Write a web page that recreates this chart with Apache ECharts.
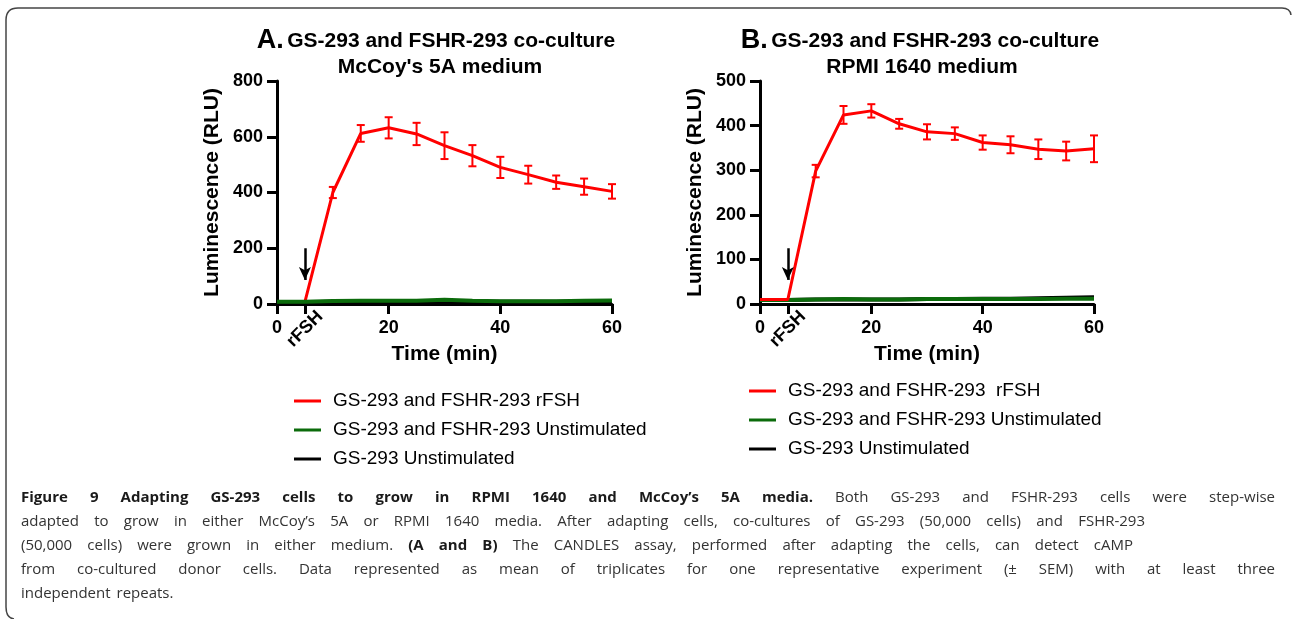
<!DOCTYPE html>
<html><head><meta charset="utf-8">
<script src="https://cdn.jsdelivr.net/npm/echarts@6/dist/echarts.min.js"></script>
<style>html,body{margin:0;padding:0;background:#fff}#c{width:1292px;height:619px}</style>
</head><body><div id="c"></div>
<script>
// ---------- data ----------
const timePoints = [0, 5, 10, 15, 20, 25, 30, 35, 40, 45, 50, 55, 60];
const xLabelValues = [0, 20, 40, 60];
const xTickValues = [0, 5, 20, 40, 60];
const stimTime = 5;
const stimLabel = 'rFSH';

const redA   = [8, 8, 400, 612, 632, 610, 568, 532, 490, 464, 437, 421, 404];
const errA   = [0, 0, 20, 30, 38, 40, 48, 38, 38, 32, 24, 29, 26];
const greenA = [8, 8, 11, 12, 12, 12, 15, 12, 10, 10, 10, 12, 13];
const blackA = [6, 6, 8, 9, 9, 9, 10, 9, 8, 8, 8, 9, 9];

const redB   = [10, 10, 298, 424, 433, 404, 386, 382, 362, 357, 347, 343, 348];
const errB   = [0, 0, 14, 20, 15, 11, 17, 14, 16, 19, 22, 21, 30];
const greenB = [9, 9, 10, 11, 10, 10, 11, 11, 11, 11, 11, 12, 12];
const blackB = [9, 9, 10, 10, 10, 10, 11, 11, 12, 12, 13, 14, 15];

const yMaxA = 800, yIntA = 200;
const yMaxB = 500, yIntB = 100;
const arrowA = [200, 86];
const arrowB = [125, 54];

const namesA = ['GS-293 and FSHR-293 rFSH', 'GS-293 and FSHR-293 Unstimulated', 'GS-293 Unstimulated'];
const namesB = ['GS-293 and FSHR-293  rFSH', 'GS-293 and FSHR-293 Unstimulated', 'GS-293 Unstimulated'];

const titleA = ['A.', 'GS-293 and FSHR-293 co-culture', "McCoy's 5A medium"];
const titleB = ['B.', 'GS-293 and FSHR-293 co-culture', 'RPMI 1640 medium'];

const captionLines = [
  {right: 1275, segs: [[true, 'Figure 9 Adapting GS-293 cells to grow in RPMI 1640 and McCoy\u2019s 5A media.'], [false, 'Both GS-293 and FSHR-293 cells were step-wise']]},
  {right: 1145, segs: [[false, 'adapted to grow in either McCoy\u2019s 5A or RPMI 1640 media. After adapting cells, co-cultures of GS-293 (50,000 cells) and FSHR-293']]},
  {right: 1133, segs: [[false, '(50,000 cells) were grown in either medium.'], [true, '(A and B)'], [false, 'The CANDLES assay, performed after adapting the cells, can detect cAMP']]},
  {right: 1275, segs: [[false, 'from co-cultured donor cells. Data represented as mean of triplicates for one representative experiment (\u00b1 SEM) with at least three']]},
  {right: null, segs: [[false, 'independent repeats.']]}
];

// ---------- styles ----------
const FONT = '"Liberation Sans", Arial, Helvetica, sans-serif';
const CAPFONT = '"Open Sans", sans-serif';
const CAPSIZE = 15;
const CAPGAP = 6;
const RED = '#ff0000', GREEN = '#0b6b0b', BLACK = '#000000';

const pairs = (ys) => timePoints.map((t, i) => [t, ys[i]]);
const errData = (ys, es) => timePoints.map((t, i) => [t, ys[i] - es[i], ys[i] + es[i]]);

function errRender(params, api) {
  const x = api.value(0), lo = api.value(1), hi = api.value(2);
  if (!(hi > lo)) return null;
  const p1 = api.coord([x, hi]), p2 = api.coord([x, lo]);
  const w = 4;
  const st = {stroke: RED, lineWidth: 2};
  return {type: 'group', children: [
    {type: 'line', shape: {x1: p1[0], y1: p1[1], x2: p2[0], y2: p2[1]}, style: st},
    {type: 'line', shape: {x1: p1[0] - w, y1: p1[1], x2: p1[0] + w, y2: p1[1]}, style: st},
    {type: 'line', shape: {x1: p2[0] - w, y1: p2[1], x2: p2[0] + w, y2: p2[1]}, style: st}
  ]};
}

function xAxes(gi) {
  return [{
    gridIndex: gi, type: 'value', min: 0, max: 60, position: 'bottom',
    axisLine: {show: true, onZero: false, lineStyle: {color: '#000', width: 3}},
    axisTick: {show: true, customValues: xTickValues, length: 10, lineStyle: {color: '#000', width: 3}},
    axisLabel: {customValues: xLabelValues, color: '#000', fontSize: 18, fontWeight: 'bold', fontFamily: FONT, margin: 15},
    splitLine: {show: false},
    name: 'Time (min)', nameLocation: 'middle', nameGap: 40,
    nameTextStyle: {color: '#000', fontSize: 21, fontWeight: 'bold', fontFamily: FONT}
  }, {
    gridIndex: gi, type: 'value', min: 0, max: 60, position: 'bottom', offset: 0,
    axisLine: {show: false}, axisTick: {show: false}, splitLine: {show: false},
    axisLabel: {customValues: [stimTime], rotate: 45, align: 'center', verticalAlign: 'middle', formatter: () => stimLabel,
      color: '#000', fontSize: 18, fontWeight: 'bold', fontFamily: FONT, margin: 25}
  }];
}
function yAxis(gi, max, interval) {
  return {
    gridIndex: gi, type: 'value', min: 0, max: max, interval: interval,
    axisLine: {show: true, lineStyle: {color: '#000', width: 3}},
    axisTick: {show: true, length: 10, lineStyle: {color: '#000', width: 3}},
    axisLabel: {color: '#000', fontSize: 18, fontWeight: 'bold', fontFamily: FONT, margin: 14},
    splitLine: {show: false},
    name: 'Luminescence (RLU)', nameLocation: 'middle', nameGap: 54,
    nameTextStyle: {color: '#000', fontSize: 21, fontWeight: 'bold', fontFamily: FONT}
  };
}
function lineSeries(name, xi, yi, data, color, width, z, extra) {
  return Object.assign({
    type: 'line', name: name, xAxisIndex: xi, yAxisIndex: yi, data: data,
    showSymbol: false, symbol: 'none', z: z,
    lineStyle: {color: color, width: width}, itemStyle: {color: color}
  }, extra || {});
}
function arrowLine(a) {
  return {
    silent: true, symbol: ['none', 'arrow'], symbolSize: [9, 13],
    lineStyle: {color: '#000', width: 2.5, type: 'solid'}, label: {show: false},
    data: [[{coord: [stimTime, a[0]]}, {coord: [stimTime, a[1]]}]]
  };
}

// ---------- caption ----------
const ctx = document.createElement('canvas').getContext('2d');
function measure(t, bold) {
  ctx.font = (bold ? 'bold ' : '') + CAPSIZE + 'px ' + CAPFONT;
  return ctx.measureText(t).width;
}
const captionGraphics = [];
const capLeft = 21, capTop = 497.5, capPitch = 24.1;
captionLines.forEach((ln, li) => {
  const words = [];
  ln.segs.forEach(([b, t]) => t.split(' ').forEach(w => words.push([b, w])));
  const widths = words.map(([b, w]) => measure(w, b));
  const total = widths.reduce((s, v) => s + v, 0);
  const gap = ln.right ? (ln.right - capLeft - total) / (words.length - 1) : CAPGAP;
  let x = capLeft;
  words.forEach(([b, w], i) => {
    captionGraphics.push({
      type: 'text', x: x, y: capTop + li * capPitch, silent: true,
      style: {text: w, font: (b ? 'bold ' : '') + CAPSIZE + 'px ' + CAPFONT, fill: b ? '#1a1a1a' : '#333333', verticalAlign: 'middle'}
    });
    x += widths[i] + gap;
  });
});

function titleGraphics(t, cx1, cx2) {
  return [{
    type: 'text', x: cx1, y: 41, silent: true,
    style: {text: '{a|' + t[0] + '} {b|' + t[1] + '}', align: 'center', verticalAlign: 'middle',
      rich: {a: {fontSize: 27, fontWeight: 'bold', fontFamily: FONT, fill: '#000'},
             b: {fontSize: 21, fontWeight: 'bold', fontFamily: FONT, fill: '#000'}}}
  }, {
    type: 'text', x: cx2, y: 67, silent: true,
    style: {text: t[2], align: 'center', verticalAlign: 'middle', font: 'bold 21px ' + FONT, fill: '#000'}
  }];
}

const frameStyle = {fill: 'none', stroke: '#444', lineWidth: 1.5};
const frame = [
  {type: 'line', silent: true, shape: {x1: 18, y1: 8, x2: 1282, y2: 8}, style: frameStyle},
  {type: 'bezierCurve', silent: true, shape: {x1: 1282, y1: 8, cpx1: 1290, cpy1: 8, x2: 1291, y2: 15}, style: frameStyle},
  {type: 'bezierCurve', silent: true, shape: {x1: 18, y1: 8, cpx1: 6, cpy1: 8, x2: 6, y2: 20}, style: frameStyle},
  {type: 'line', silent: true, shape: {x1: 6, y1: 20, x2: 6, y2: 607}, style: frameStyle},
  {type: 'bezierCurve', silent: true, shape: {x1: 6, y1: 607, cpx1: 6, cpy1: 618, x2: 14, y2: 619}, style: frameStyle}
];

const legendBase = {
  orient: 'vertical', icon: 'rect', itemWidth: 27, itemHeight: 3, itemGap: 10, padding: 0,
  selectedMode: false,
  textStyle: {fontSize: 19, lineHeight: 19, fontFamily: FONT, color: '#000', padding: [0, 0, 0, 7]}
};

const chart = echarts.init(document.getElementById('c'), null, {renderer: 'canvas'});
chart.setOption({
  animation: false,
  backgroundColor: '#fff',
  grid: [
    {left: 277, top: 81, width: 335, height: 223},
    {left: 760, top: 81, width: 334, height: 223}
  ],
  xAxis: xAxes(0).concat(xAxes(1)),
  yAxis: [yAxis(0, yMaxA, yIntA), yAxis(1, yMaxB, yIntB)],
  legend: [
    Object.assign({}, legendBase, {left: 294, top: 391.5, data: namesA}),
    Object.assign({}, legendBase, {left: 749, top: 381.5, data: namesB})
  ],
  series: [
    lineSeries(namesA[0], 0, 0, pairs(redA), RED, 3, 2),
    {type: 'custom', xAxisIndex: 0, yAxisIndex: 0, renderItem: errRender, data: errData(redA, errA), encode: {x: 0, y: [1, 2]}, z: 2, silent: true},
    lineSeries(namesA[2], 0, 0, pairs(blackA), BLACK, 4, 3, {markLine: arrowLine(arrowA)}),
    lineSeries(namesA[1], 0, 0, pairs(greenA), GREEN, 4, 4),

    lineSeries(namesB[2], 2, 1, pairs(blackB), BLACK, 4, 2, {markLine: arrowLine(arrowB)}),
    lineSeries(namesB[1], 2, 1, pairs(greenB), GREEN, 4, 3),
    lineSeries(namesB[0], 2, 1, pairs(redB), RED, 3, 4),
    {type: 'custom', xAxisIndex: 2, yAxisIndex: 1, renderItem: errRender, data: errData(redB, errB), encode: {x: 0, y: [1, 2]}, z: 4, silent: true}
  ],
  graphic: frame.concat(titleGraphics(titleA, 436, 440), titleGraphics(titleB, 920, 922), captionGraphics)
});
</script>
</body></html>
